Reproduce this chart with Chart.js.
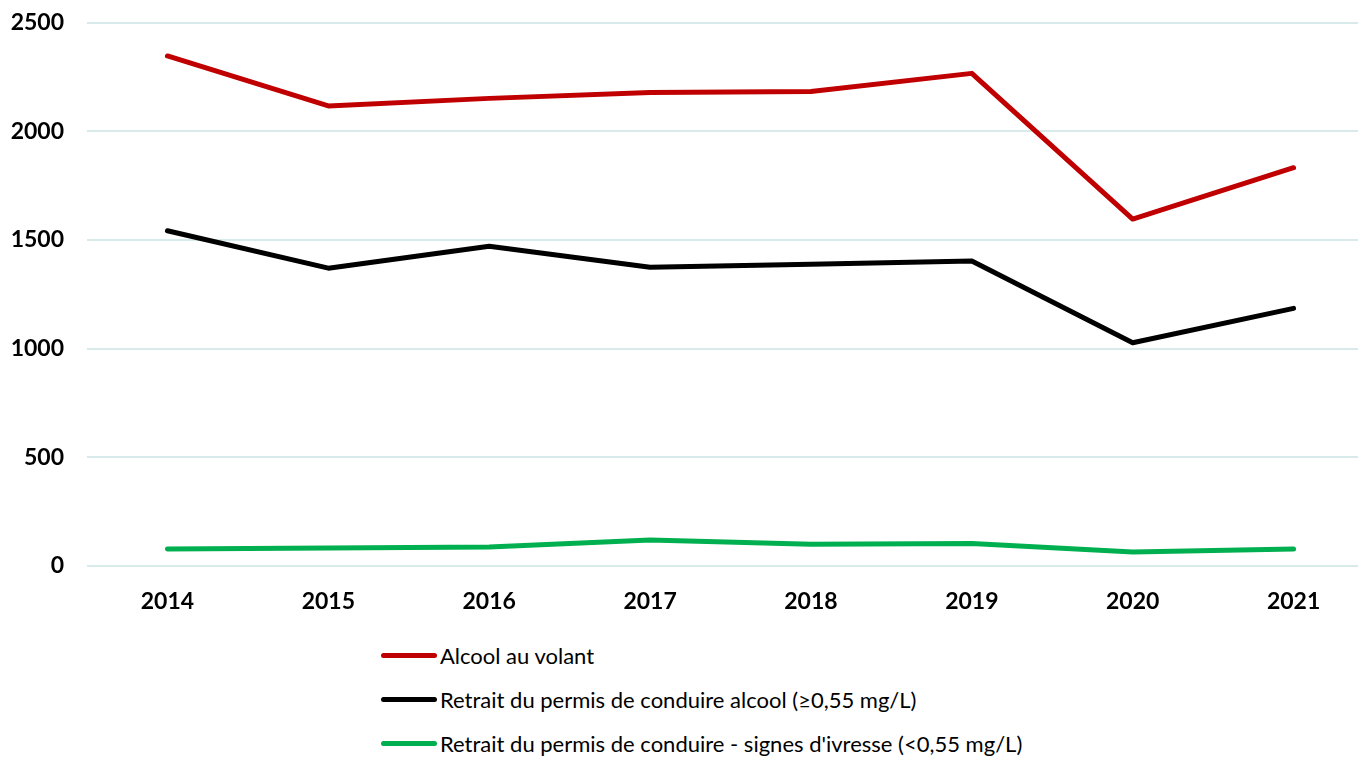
<!DOCTYPE html>
<html>
<head>
<meta charset="utf-8">
<script src="https://cdn.jsdelivr.net/npm/chart.js@4"></script>
<style>
  html, body { margin: 0; padding: 0; background: #fff; overflow: hidden; }
  #wrap { position: relative; width: 1374px; height: 632px; margin-top: -12px; }
  #legend { position: absolute; left: 381px; top: 640px; font-family: Lato, 'Open Sans', sans-serif; font-size: 22px; color: #000; }
  .leg-item { display: flex; align-items: center; height: 30px; margin-bottom: 14px; }
  .leg-line { width: 56px; height: 5px; border-radius: 3px; margin-right: 3px; }
</style>
</head>
<body>
<div id="wrap"><canvas id="chart"></canvas></div>
<div id="legend"></div>
<script>
const years = ['2014', '2015', '2016', '2017', '2018', '2019', '2020', '2021'];
const alcoolVolant = [2346, 2116, 2151, 2178, 2183, 2266, 1596, 1832];
const retraitAlcool = [1542, 1370, 1471, 1374, 1388, 1403, 1027, 1185];
const retraitIvresse = [78, 83, 87, 120, 100, 103, 64, 78];
const seriesNames = [
  'Alcool au volant',
  'Retrait du permis de conduire alcool (≥0,55 mg/L)',
  "Retrait du permis de conduire - signes d'ivresse (<0,55 mg/L)"
];
const seriesColors = ['#C00000', '#000000', '#00B050'];
const yTicks = [0, 500, 1000, 1500, 2000, 2500];

const fontFamily = 'Lato, "Open Sans", sans-serif';

function makeSet(i, data) {
  return {
    label: seriesNames[i],
    data,
    borderColor: seriesColors[i],
    backgroundColor: seriesColors[i],
    borderWidth: 5,
    borderCapStyle: 'round',
    borderJoinStyle: 'round',
    pointRadius: 0,
    tension: 0
  };
}

new Chart(document.getElementById('chart'), {
  type: 'line',
  data: {
    labels: years,
    datasets: [
      makeSet(0, alcoolVolant),
      makeSet(1, retraitAlcool),
      makeSet(2, retraitIvresse)
    ]
  },
  options: {
    responsive: true,
    maintainAspectRatio: false,
    animation: false,
    layout: { padding: { top: 0, right: 0, left: 0, bottom: 0 } },
    plugins: { legend: { display: false }, tooltip: { enabled: false } },
    scales: {
      x: {
        offset: true,
        grid: { display: false },
        border: { display: false },
        ticks: { color: '#000', padding: 14, maxRotation: 0, font: { family: fontFamily, size: 23, weight: 'bold' } },
        afterFit: s => { s.height = 54; }
      },
      y: {
        min: 0,
        max: 2500,
        afterBuildTicks: s => { s.ticks = yTicks.map(v => ({ value: v })); },
        grid: { color: '#D9EAEA', lineWidth: 2, drawTicks: false },
        border: { display: false },
        ticks: { color: '#000', padding: 23, callback: v => String(v), font: { family: fontFamily, size: 23, weight: 'bold', lineHeight: 1 } },
        afterFit: s => { s.width = 87; }
      }
    }
  }
});

const legend = document.getElementById('legend');
seriesNames.forEach((name, i) => {
  const item = document.createElement('div');
  item.className = 'leg-item';
  item.innerHTML = `<span class="leg-line" style="background:${seriesColors[i]}"></span><span>${name}</span>`;
  legend.appendChild(item);
});
</script>
</body>
</html>
